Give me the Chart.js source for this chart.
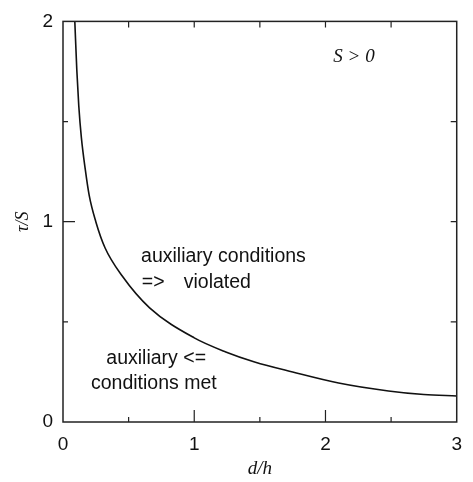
<!DOCTYPE html>
<html>
<head>
<meta charset="utf-8">
<script src="https://cdn.jsdelivr.net/npm/chart.js@4/dist/chart.umd.min.js"></script>
<style>
  html, body { margin: 0; padding: 0; background: #fff; }
  #wrap { width: 473px; height: 482px; }
</style>
</head>
<body>
<div id="wrap"><canvas id="limitChart"></canvas></div>
<script>
// boundary curve tau/S against d/h
var dOverH   = [0.09, 0.105, 0.12, 0.14, 0.17, 0.20, 0.25, 0.32, 0.45, 0.66, 1.00, 1.24, 1.46, 1.75, 2.10, 2.48, 2.75, 3.00];
var tauOverS = [2.00, 1.76, 1.58, 1.42, 1.26, 1.13, 1.00, 0.87, 0.73, 0.57, 0.42, 0.35, 0.30, 0.25, 0.195, 0.155, 0.137, 0.13];
var xTickLabels = [0, 1, 2, 3];
var yTickLabels = [0, 1, 2];

// region labels, placed in data units (left edge, baseline)
var notes = [
  { text: 'S > 0', x: 2.06, y: 1.796, font: 'italic 19px "Liberation Serif"' },
  { text: 'auxiliary conditions', x: 0.595, y: 0.798 },
  { text: '=>', x: 0.6, y: 0.67 },
  { text: 'violated', x: 0.92, y: 0.67 },
  { text: 'auxiliary <=', x: 0.33, y: 0.292 },
  { text: 'conditions met', x: 0.213, y: 0.166 }
];

var points = dOverH.map(function (d, i) { return { x: d, y: tauOverS[i] }; });

// frame on all four sides with inward ticks
var frameTicks = {
  id: 'frameTicks',
  afterDraw: function (chart) {
    var ctx = chart.ctx, a = chart.chartArea;
    var xs = chart.scales.x, ys = chart.scales.y;
    ctx.save();
    ctx.strokeStyle = '#222';
    ctx.lineWidth = 1.5;
    ctx.strokeRect(a.left, a.top, a.right - a.left, a.bottom - a.top);
    ctx.lineWidth = 1.2;
    ctx.beginPath();
    xs.ticks.forEach(function (t) {
      var px = xs.getPixelForValue(t.value);
      var major = Number.isInteger(t.value);
      if (px <= a.left + 1 || px >= a.right - 1) return;
      ctx.moveTo(px, a.bottom); ctx.lineTo(px, a.bottom - (major ? 12 : 5));
      ctx.moveTo(px, a.top); ctx.lineTo(px, a.top + 6);
    });
    ys.ticks.forEach(function (t) {
      var py = ys.getPixelForValue(t.value);
      var major = Number.isInteger(t.value);
      if (py <= a.top + 1 || py >= a.bottom - 1) return;
      ctx.moveTo(a.left, py); ctx.lineTo(a.left + (major ? 12 : 5), py);
      ctx.moveTo(a.right, py); ctx.lineTo(a.right - 6, py);
    });
    ctx.stroke();

    ctx.fillStyle = '#111';
    ctx.textBaseline = 'alphabetic';
    ctx.textAlign = 'left';
    notes.forEach(function (n) {
      ctx.font = n.font || '19.5px "Liberation Sans"';
      ctx.fillText(n.text, xs.getPixelForValue(n.x), ys.getPixelForValue(n.y));
    });
    ctx.restore();
  }
};

var ctxL = document.getElementById('limitChart').getContext('2d');
var limitChart = new Chart(ctxL, {
  type: 'line',
  data: {
    datasets: [{
      data: points,
      borderColor: '#111',
      borderWidth: 1.6,
      pointRadius: 0,
      fill: false,
      cubicInterpolationMode: 'monotone',
      clip: false
    }]
  },
  options: {
    responsive: true,
    maintainAspectRatio: false,
    animation: false,
    layout: { padding: { top: 16, right: 7, left: 0, bottom: 0 } },
    plugins: {
      legend: { display: false },
      tooltip: { enabled: false }
    },
    scales: {
      x: {
        type: 'linear',
        min: 0,
        max: 3,
        afterFit: function (s) { s.height = 60; },
        grid: { display: false, drawTicks: false },
        border: { display: false },
        ticks: {
          stepSize: 0.5,
          autoSkip: false,
          maxRotation: 0,
          padding: 11,
          color: '#111',
          font: { family: 'Liberation Sans', size: 19 },
          callback: function (v) { return xTickLabels.indexOf(v) >= 0 ? String(v) : ''; }
        },
        title: {
          display: true,
          text: 'd/h',
          color: '#111',
          padding: { top: 0, bottom: 2 },
          font: { family: 'Liberation Serif', size: 19, style: 'italic' }
        }
      },
      y: {
        type: 'linear',
        min: 0,
        max: 2,
        afterFit: function (s) { s.width = 63; },
        grid: { display: false, drawTicks: false },
        border: { display: false },
        ticks: {
          stepSize: 0.5,
          autoSkip: false,
          padding: 10,
          color: '#111',
          font: { family: 'Liberation Sans', size: 19 },
          callback: function (v) { return yTickLabels.indexOf(v) >= 0 ? String(v) : ''; }
        },
        title: {
          display: true,
          text: 'τ/S',
          color: '#111',
          padding: { top: 12, bottom: 0 },
          font: { family: 'Liberation Serif', size: 18, style: 'italic' }
        }
      }
    }
  },
  plugins: [frameTicks]
});
</script>
</body>
</html>
